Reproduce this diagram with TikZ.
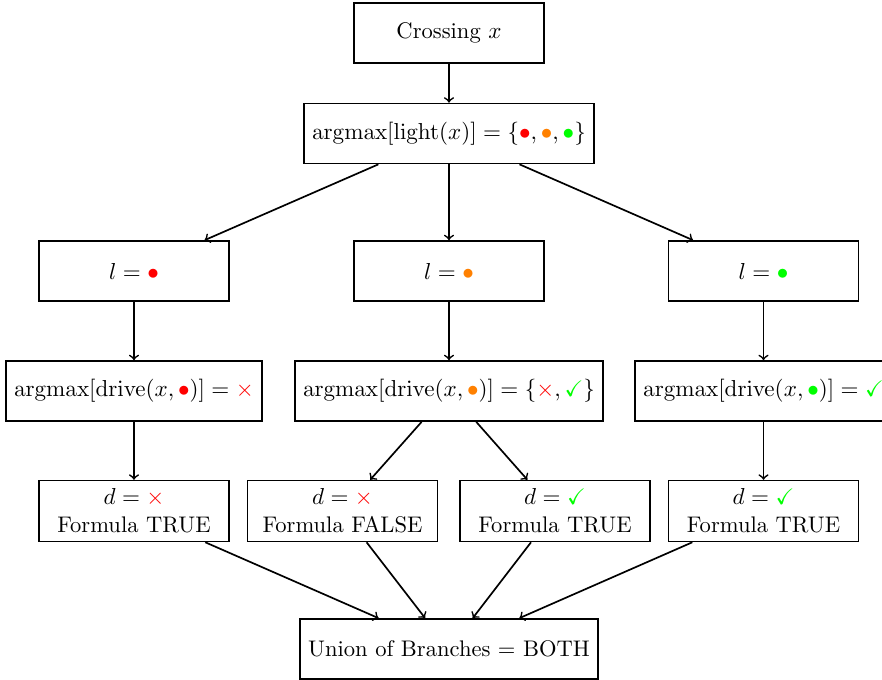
\documentclass[tikz,border=0pt]{standalone}
\usepackage{amssymb}
\usepackage{xcolor}
\usetikzlibrary{positioning}

\newcommand{\redl}{\textcolor{red}{\bullet}}
\newcommand{\orgl}{\textcolor{orange}{\bullet}}
\newcommand{\grnl}{\textcolor{green}{\bullet}}
\newcommand{\nodrive}{\textcolor{red}{\times}}
\newcommand{\yesdrive}{\textcolor{green}{\checkmark}}

\begin{document}
\begin{tikzpicture}[box/.style={rectangle,draw,thick,minimum width=3.17cm,minimum height=1cm,align=center,inner sep=3.8pt,font=\fontsize{10.7pt}{13.4pt}\selectfont}]
        \useasboundingbox (0,0) rectangle (14.7,-11.317);
        \node[box] (crossing) at (7.483,-0.55) {Crossing $x$};
        \node[box] (light) at (7.483,-2.225) {$\mathrm{argmax}[\mathrm{light}(x)] = \{\redl,\orgl,\grnl\}$};

        \node[box] (lred) at (2.233,-4.517) {$l = \redl$};
        \node[box] (lorange) at (7.483,-4.517) {$l = \orgl$};
        \node[box] (lgreen) at (12.725,-4.517) {$l = \grnl$};

        \node[box] (drivered) at (2.233,-6.517) {$\mathrm{argmax}[\mathrm{drive}(x,\redl)] = \nodrive$};
        \node[box] (driveorange) at (7.483,-6.517) {$\mathrm{argmax}[\mathrm{drive}(x,\orgl)] = \{\nodrive,\yesdrive\}$};
        \node[box] (drivegreen) at (12.725,-6.517) {$\mathrm{argmax}[\mathrm{drive}(x,\grnl)] = \yesdrive$};

        \node[box] (dred) at (2.233,-8.517) {$d = \nodrive$\\Formula TRUE};
        \node[box] (dorange0) at (5.708,-8.517) {$d = \nodrive$\\Formula FALSE};
        \node[box] (dorange1) at (9.25,-8.517) {$d = \yesdrive$\\Formula TRUE};
        \node[box] (dgreen) at (12.725,-8.517) {$d = \yesdrive$\\Formula TRUE};

        \node[box] (union) at (7.483,-10.817) {Union of Branches = BOTH};

        \draw[thick] (crossing) edge[->] (light);
        \draw[thick] (light) edge[->] (lred);
        \draw[thick] (light) edge[->] (lorange);
        \draw[thick] (light) edge[->] (lgreen);
        \draw[thick] (lred) edge[->] (drivered);
        \draw[thick] (lorange) edge[->] (driveorange);
        \draw[thick] (lgreen) edge[->] (drivegreen);
        \draw[thick] (drivered) edge[->] (dred);
        \draw[thick] (driveorange) edge[->] (dorange0);
        \draw[thick] (driveorange) edge[->] (dorange1);
        \draw[thick] (drivegreen) edge[->] (dgreen);
        \draw[thick] (dred) edge[->] (union);
        \draw[thick] (dorange0) edge[->] (union);
        \draw[thick] (dorange1) edge[->] (union);
        \draw[thick] (dgreen) edge[->] (union);
    \end{tikzpicture}
\end{document}
